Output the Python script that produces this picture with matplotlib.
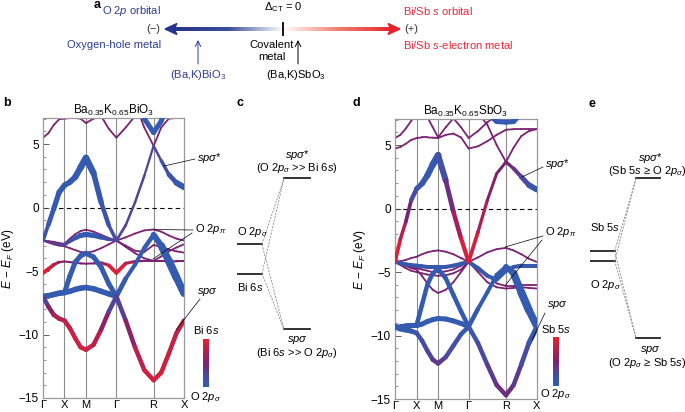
import numpy as np
import matplotlib.pyplot as plt
from matplotlib.collections import LineCollection
from matplotlib.colors import LinearSegmentedColormap
from matplotlib.patches import Polygon

plt.rcParams['font.family'] = ['Liberation Sans', 'DejaVu Sans']
plt.rcParams['mathtext.fontset'] = 'custom'
plt.rcParams['mathtext.rm'] = 'Liberation Sans'
plt.rcParams['mathtext.it'] = 'Liberation Sans:italic'
plt.rcParams['mathtext.bf'] = 'Liberation Sans:bold'

# k path  G-X-M-G-R-X  (segment lengths in 2pi/a)
seg_len = [0.5, 0.5, 0.7071, 0.8660, 0.7071]
kpts = np.cumsum([0] + seg_len)
klabels = ['Γ', 'X', 'M', 'Γ', 'R', 'X']
# 4 samples per segment
kgrid = np.concatenate([np.linspace(kpts[i], kpts[i + 1], 5)[:-1] for i in range(5)] + [[kpts[-1]]])
NA = np.nan

# ---------------- Ba0.35K0.65BiO3 bands (eV), colour weight (0 = O 2p, 1 = Bi 6s), width (px)
bi_cb = [-2.6, -1.35, -0.1, 1.2, 1.75, 2.0, 2.4, 3.15, 3.9, 2.7, 0.4, -1.4, -2.6, -1.4, 0.4, 2.5, 4.85, 3.7, 2.6, 1.95, 1.6]
bi_cb_c = [0.15, 0.1, 0.05, 0.05, 0.05, 0.05, 0.05, 0.05, 0.05, 0.05, 0.1, 0.15, 0.25, 0.3, 0.3, 0.3, 0.3, 0.25, 0.15, 0.1, 0.05]
bi_cb_w = [3, 4.5, 5, 5.5, 5.5, 5.5, 6, 6.5, 7, 6, 5, 4, 3, 2.5, 2.5, 2.5, 2, 3, 4, 5.5, 6.5]

bi_up1 = [5.5, 5.85, 6.5, 6.95, 7.0, 7.05, 7.05, 7.0, 6.65, 7.0, 7.2, 6.2, 5.5, 6.3, 7.2, 8, 8, 8, 8, 8, 8]
bi_up2 = [NA] * 13 + [9, 8.2, 6.3, 4.85, 6.3, 7.0, 7.05, 7.05]
bi_up3 = [NA] * 14 + [9, 7.0, 5.9, 6.8, 8.5, NA, NA]

bi_flat = [-7.0, -6.95, -6.85, -6.75, -6.7, -6.6, -6.45, -6.35, -6.3, -6.4, -6.6, -6.8, -7.0,
           -5.6, -4.5, -3.2, -2.15, -3.0, -4.2, -5.5, -6.75]
bi_flat_w = [5.5] * 13 + [4, 4, 4, 5, 7, 8, 8, 7]

bi_arch = [-7.0, -6.95, -6.85, -6.75, -6.7, -5.4, -4.3, -3.8, -3.6, -3.9, -4.7, -6.0, -7.0] + [NA] * 8

bi_sp = [-7.0, -7.8, -8.45, -8.75, -8.9, -9.5, -10.3, -11.0, -11.2, -10.8, -9.6, -8.2, -7.0,
         -8.9, -11.0, -12.8, -13.6, -13.0, -11.5, -9.9, -8.9]
bi_sp_c = [0.15, 0.45, 0.65, 0.75, 0.8, 0.82, 0.85, 0.87, 0.88, 0.85, 0.7, 0.45, 0.15, 0.45, 0.7, 0.85, 0.9, 0.88, 0.85, 0.8, 0.78]

bi_s = [-5.15, -4.85, -4.5, -4.3, -4.25, -4.3, -4.35, -4.4, -4.42, -4.4, -4.35, -4.55, -5.15,
        -4.4, -4.25, -4.2, -4.2, -4.2, -4.2, -4.25, -4.25]
bi_s_c = [1.0, 0.95, 0.8, 0.6, 0.5, 0.5, 0.5, 0.5, 0.5, 0.5, 0.55, 0.85, 1.0, 0.85, 0.6, 0.5, 0.5, 0.5, 0.5, 0.5, 0.5]
bi_s_w = [4, 4, 3.5, 2.5, 2, 2, 2, 2, 2, 2, 2.5, 3.5, 4, 3.5, 2.5, 2, 2, 2, 2, 2, 2]

bi_pu = [-2.6, -2.65, -2.7, -2.8, -2.85, -2.45, -2.1, -1.85, -1.75, -1.9, -2.15, -2.4, -2.6,
         -2.35, -2.05, -1.8, -1.73, -1.9, -2.2, -2.45, -2.6]
bi_bh = [-2.6, -2.7, -2.8, -2.9, -2.95, -2.65, -2.4, -2.2, -2.12, -2.2, -2.35, -2.5, -2.6] + [NA] * 8
bi_bh_c = [0.4, 0.4, 0.35, 0.3, 0.3, 0.2, 0.1, 0.05, 0.05, 0.05, 0.1, 0.2, 0.35] + [0.3] * 8
bi_bh_w = [2, 2, 2.5, 3, 3, 3.5, 4.5, 5, 5.5, 5, 4.5, 3.5, 2.5] + [2] * 8
bi_pl = [-2.6, -2.75, -2.9, -3.0, -3.05, -3.2, -3.35, -3.5, -3.55, -3.45, -3.2, -2.9, -2.6,
         -3.0, -3.4, -3.5, -2.95, -3.1, -3.3, -3.45, -3.55]
bi_pm = [NA] * 12 + [-2.6, -3.1, -3.6, -4.0, -4.2, -3.85, -3.45, -3.15, -2.9]

# ---------------- Ba0.35K0.65SbO3 bands
sb_cb = [-4.2, -2.4, -1.05, 0.65, 1.55, 1.95, 2.6, 3.45, 4.2, 2.2, -0.25, -2.35, -4.2,
         -1.85, 0.65, 2.75, 3.67, 3.15, 2.5, 1.85, 1.5]
sb_cb_c = [1.0, 0.85, 0.62, 0.35, 0.15, 0.1, 0.08, 0.07, 0.07, 0.3, 0.55, 0.8, 1.0, 0.8, 0.6, 0.5, 0.5, 0.45, 0.3, 0.15, 0.08]
sb_cb_w = [4, 3.5, 3.5, 4, 5, 5.5, 6, 6.5, 7, 5, 4.5, 4.5, 4, 3.5, 3, 3, 3, 3.5, 4.5, 5.5, 6]

sb_up1 = [5.55, 5.8, 6.3, 6.9, 7.5, 7.5, 7.2, 6.4, 5.6, 6.4, 7.1, 6.4, 5.55, 6.1, 6.8, 7.3, 7.5, 7.5, 7.5, 7.5, 7.5]
sb_up2 = [4.72, 4.85, 5.1, 5.4, 5.55, 5.6, 5.6, 5.58, 5.55, 5.8, 5.9, 5.6, 4.72, 4.9, 5.3, 5.8, 6.2, 6.25, 6.25, 6.25, 6.25]
sb_up3 = [NA] * 13 + [7.5, 6.6, 5.0, 3.67, 4.8, 5.7, 6.1, 6.25]
sb_up4 = [NA] * 14 + [7.5, 6.85, 6.8, 6.85, 7.5, NA, NA]

sb_sp = [-9.3, -9.45, -9.55, -9.65, -9.8, -10.4, -11.2, -11.9, -12.2, -11.7, -10.8, -9.9, -9.3,
         -10.6, -12.3, -13.9, -14.7, -13.9, -12.3, -10.6, -9.4]
sb_sp_c = [0.05, 0.05, 0.05, 0.08, 0.1, 0.15, 0.25, 0.35, 0.4, 0.3, 0.2, 0.1, 0.05, 0.15, 0.3, 0.4, 0.45, 0.4, 0.3, 0.15, 0.05]
sb_sp_w = [6, 6, 5.5, 5, 4.5] + [4.5] * 14 + [5, 5.5]

sb_flat = [-9.3, -9.3, -9.25, -9.2, -9.2, -9.1, -8.9, -8.75, -8.66, -8.7, -8.85, -9.05, -9.3,
           -7.9, -6.6, -5.25, -4.6, -5.1, -6.6, -8.0, -9.2]
sb_flat_w = [5] * 13 + [4, 4, 4, 5, 7, 8, 8, 7]
sb_arch = [-9.3, -9.3, -9.25, -9.2, -9.2, -7.6, -6.0, -5.1, -4.75, -5.5, -6.8, -8.1, -9.3] + [NA] * 8

sb_b1 = [-4.2, -4.3, -4.4, -4.45, -4.5, -4.55, -4.6, -4.6, -4.6, -4.6, -4.5, -4.35, -4.2,
         -4.7, -5.3, -5.6, -4.9, -4.6, -4.5, -4.5, -4.5]
sb_p1 = [-4.2, -4.15, -4.05, -3.9, -3.8, -3.6, -3.45, -3.35, -3.3, -3.4, -3.6, -3.9, -4.2,
         -3.85, -3.45, -3.2, -3.1, -3.3, -3.6, -3.95, -4.2]
sb_p2 = [-4.2, -4.35, -4.5, -4.65, -4.7, -4.8, -4.9, -5.0, -5.0, -4.95, -4.8, -4.5, -4.2,
         -4.6, -5.2, -5.9, -6.1, -6.1, -6.0, -6.0, -6.0]
sb_p3 = [-4.2, -4.45, -4.7, -4.9, -5.0, -5.1, -5.2, -5.25, -5.3, -5.25, -5.1, -4.8, -4.2,
         -5.0, -5.8, -6.2, -6.3, -6.25, -6.2, -6.25, -6.3]
sb_p4 = [-4.2, -4.3, -4.5, -4.7, -4.8, -5.3, -5.9, -6.4, -6.65, -6.4, -5.8, -5.0, -4.2] + [NA] * 8

# energy level schemes (same energy scale as the bands)
c_levels_left = [-2.9, -5.2]      # O 2p_sigma, Bi 6s
c_levels_right = [2.3, -9.6]      # sp sigma*, sp sigma
e_levels_left = [-3.4, -4.2]      # Sb 5s, O 2p_sigma
e_levels_right = [2.3, -10.3]

cmap = LinearSegmentedColormap.from_list(
    'orb', ['#2f5fb3', '#4a4aa0', '#7a2272', '#b3214f', '#ee1f2f'], N=256)
PURPLE = 0.5


def draw_band(ax, e, c=PURPLE, w=1.8, z=2):
    e = np.asarray(e, float)
    c = np.broadcast_to(np.asarray(c, float), e.shape)
    w = np.broadcast_to(np.asarray(w, float), e.shape)
    pts = np.column_stack([kgrid, e])
    segs = np.stack([pts[:-1], pts[1:]], axis=1)
    ok = ~np.isnan(segs).any(axis=(1, 2))
    cc = 0.5 * (c[:-1] + c[1:])
    ww = 0.5 * (w[:-1] + w[1:]) * 0.72
    lc = LineCollection(segs[ok], colors=cmap(cc[ok]), linewidths=ww[ok],
                        capstyle='round', joinstyle='round', zorder=z)
    ax.add_collection(lc)


def band_axes(rect, title):
    ax = fig.add_axes(rect)
    ax.set_xlim(kpts[0], kpts[-1])
    ax.set_ylim(-15, 7.05)
    for k in kpts[1:-1]:
        ax.axvline(k, color='#8c8c8c', lw=0.8, zorder=1)
    ax.axhline(0, color='black', lw=0.8, ls=(0, (4, 3)), zorder=1.5)
    ax.set_xticks(kpts)
    ax.set_xticklabels(klabels)
    ax.set_yticks([-15, -10, -5, 0, 5])
    ax.set_yticks(np.arange(-15, 8, 1), minor=True)
    ax.tick_params(axis='y', direction='in', length=4, width=0.6, labelsize=8.5, pad=3, colors='#444444',
                   labelcolor='black')
    ax.tick_params(axis='y', which='minor', direction='in', length=2, width=0.5, colors='#666666')
    ax.tick_params(axis='x', length=0, labelsize=8, pad=1.2)
    for s in ax.spines.values():
        s.set_color('#9a9a9a')
        s.set_linewidth(0.9)
    ax.set_ylabel(r'$E$ − $E_F$ (eV)', fontsize=8.5, labelpad=2)
    ax.set_title(title, fontsize=8.5, pad=3)
    return ax


fig = plt.figure(figsize=(6.85, 4.12), dpi=100)
W, H = 685.0, 412.0


def rect(x0, y0, x1, y1):
    return [x0 / W, 1 - y1 / H, (x1 - x0) / W, (y1 - y0) / H]


# ---- panel b
axb = band_axes(rect(43, 118, 184, 398), r'Ba$_{0.35}$K$_{0.65}$BiO$_3$')
for e in (bi_up1, bi_up2, bi_pu, bi_pl, bi_pm):
    draw_band(axb, e)
draw_band(axb, bi_up3, 0.05, 5, z=3)
draw_band(axb, bi_s, bi_s_c, bi_s_w, z=3)
draw_band(axb, bi_bh, bi_bh_c, bi_bh_w, z=3)
draw_band(axb, bi_flat, 0.05, bi_flat_w, z=3)
draw_band(axb, bi_arch, 0.05, 5, z=3)
draw_band(axb, bi_sp, bi_sp_c, 4.5, z=3)
draw_band(axb, bi_cb, bi_cb_c, bi_cb_w, z=4)

# ---- panel d
axd = band_axes(rect(395, 119, 536.5, 399), r'Ba$_{0.35}$K$_{0.65}$SbO$_3$')
for e in (sb_up1, sb_up2, sb_up3, sb_p1, sb_p2, sb_p3, sb_p4):
    draw_band(axd, e)
draw_band(axd, sb_up4, 0.05, 5, z=3)
draw_band(axd, sb_b1, 0.08, 4, z=3)
draw_band(axd, sb_flat, 0.05, sb_flat_w, z=3)
draw_band(axd, sb_arch, 0.05, 4.5, z=3)
draw_band(axd, sb_sp, sb_sp_c, sb_sp_w, z=3)
draw_band(axd, sb_cb, sb_cb_c, sb_cb_w, z=4)

# ---- colour bars
grad = np.linspace(0, 1, 128).reshape(-1, 1)
for r in (rect(203, 339, 209, 387), rect(553, 337, 559, 386)):
    cax = fig.add_axes(r)
    cax.imshow(grad, cmap=cmap, origin='lower', aspect='auto')
    cax.axis('off')


# ---- level schemes c, e
def level_axes(r, left, right, xl, xr):
    ax = fig.add_axes(r)
    ax.set_xlim(0, 1)
    ax.set_ylim(-15, 7.05)
    ax.axis('off')
    for y in left:
        ax.plot(xl, [y, y], color='#222222', lw=1.3)
    for y in right:
        ax.plot(xr, [y, y], color='#222222', lw=1.3)
    for y0 in left:
        for y1 in right:
            ax.plot([xl[1], xr[0]], [y0, y1], color='#8a8a8a', lw=0.6, ls=(0, (2.5, 1.5)))
    return ax


axc = level_axes(rect(237, 118, 337, 398), c_levels_left, c_levels_right, [0, 0.25], [0.47, 0.73])
axe = level_axes(rect(590, 118, 685, 398), e_levels_left, e_levels_right, [0, 0.26], [0.485, 0.74])

# ---- overlay for panel a and annotations
ax0 = fig.add_axes([0, 0, 1, 1], zorder=10)
ax0.set_xlim(0, W)
ax0.set_ylim(H, 0)
ax0.axis('off')

BLUE_T = '#2e3c8e'
RED_T = '#e8283a'
fs = 8

# gradient arrow
arrow_cmap = LinearSegmentedColormap.from_list('arr', ['#23348a', '#3a4c9a', '#ffffff', '#f08070', '#e8202a'])
xg = np.linspace(0, 1, 256).reshape(1, -1)
ax0.imshow(xg, cmap=arrow_cmap, extent=(172, 394, 31.0, 27.2), aspect='auto', zorder=1)
ax0.add_patch(Polygon([[165, 29], [177, 23.5], [174, 29], [177, 34.5]], closed=True, color='#23348a', zorder=2))
ax0.add_patch(Polygon([[400, 29], [388, 23.5], [391, 29], [388, 34.5]], closed=True, color='#e8202a', zorder=2))
ax0.plot([283, 283], [23, 35], color='black', lw=1.3)

ax0.text(283, 7, r'$\Delta_{\rm CT}$ = 0', ha='center', va='center', fontsize=fs)
ax0.text(161, 11, r'O 2$p$ orbital', ha='right', va='center', fontsize=fs, color=BLUE_T)
ax0.text(161, 45, 'Oxygen-hole metal', ha='right', va='center', fontsize=fs, color=BLUE_T)
ax0.text(403, 11, r'Bi/Sb $s$ orbital', ha='left', va='center', fontsize=fs, color=RED_T)
ax0.text(403, 45, r'Bi/Sb $s$-electron metal', ha='left', va='center', fontsize=fs, color=RED_T)
ax0.text(160, 29, '(−)', ha='right', va='center', fontsize=fs, color='#333333')
ax0.text(404, 29, '(+)', ha='left', va='center', fontsize=fs, color='#333333')
ax0.text(272, 51, 'Covalent\nmetal', ha='center', va='center', fontsize=fs, linespacing=1.35)
ax0.annotate('', xy=(198, 40), xytext=(198, 64),
             arrowprops=dict(arrowstyle='->', color=BLUE_T, lw=0.7, shrinkA=0, shrinkB=0))
ax0.annotate('', xy=(298, 40), xytext=(298, 64),
             arrowprops=dict(arrowstyle='->', color='black', lw=0.7, shrinkA=0, shrinkB=0))
ax0.text(198, 75, r'(Ba,K)BiO$_3$', ha='center', va='center', fontsize=fs, color=BLUE_T)
ax0.text(296, 75, r'(Ba,K)SbO$_3$', ha='center', va='center', fontsize=fs)

for lab, x, y in (('a', 94, 5), ('b', 3, 103), ('c', 237, 103), ('d', 353, 103), ('e', 589, 104)):
    ax0.text(x, y, lab, fontsize=9, fontweight='bold', ha='left', va='center')

# panel b annotations
ax0.text(197, 158, r'$sp\sigma$*', fontsize=fs, va='center')
ax0.plot([164, 195], [166, 159], color='black', lw=0.5)
ax0.text(195, 229, r'O 2$p_\pi$', fontsize=fs, va='center')
ax0.plot([155, 193], [229.5, 230], color='black', lw=0.5)
ax0.plot([153, 192], [259, 233], color='black', lw=0.5)
ax0.text(197, 292, r'$sp\sigma$', fontsize=fs, va='center')
ax0.plot([176, 200], [330, 299], color='black', lw=0.5)
ax0.text(206, 330, r'Bi 6$s$', fontsize=fs, ha='center', va='center')
ax0.text(206, 397, r'O 2$p_\sigma$', fontsize=fs, ha='center', va='center')

# panel d annotations
ax0.text(545, 164, r'$sp\sigma$*', fontsize=fs, va='center')
ax0.plot([522, 543], [177, 167], color='black', lw=0.5)
ax0.text(545, 232, r'O 2$p_\pi$', fontsize=fs, va='center')
ax0.plot([505, 543], [247, 236], color='black', lw=0.5)
ax0.plot([505.5, 542], [285, 240], color='black', lw=0.5)
ax0.text(547, 305, r'$sp\sigma$', fontsize=fs, va='center')
ax0.plot([532, 545], [340, 313], color='black', lw=0.5)
ax0.text(556, 329, r'Sb 5$s$', fontsize=fs, ha='center', va='center')
ax0.text(556, 394, r'O 2$p_\sigma$', fontsize=fs, ha='center', va='center')

# panel c texts
ax0.text(297, 155, r'$sp\sigma$*', fontsize=fs, ha='center', va='center')
ax0.text(297, 168, r'(O 2$p_\sigma$ >> Bi 6$s$)', fontsize=fs, ha='center', va='center')
ax0.text(237, 232, r'O 2$p_\sigma$', fontsize=fs, ha='left', va='center')
ax0.text(237, 287, r'Bi 6$s$', fontsize=fs, ha='left', va='center')
ax0.text(297, 340, r'$sp\sigma$', fontsize=fs, ha='center', va='center')
ax0.text(297, 353, r'(Bi 6$s$ >> O 2$p_\sigma$)', fontsize=fs, ha='center', va='center')

# panel e texts
ax0.text(650, 158, r'$sp\sigma$*', fontsize=fs, ha='center', va='center')
ax0.text(647, 171, r'(Sb 5$s$ ≥ O 2$p_\sigma$)', fontsize=fs, ha='center', va='center')
ax0.text(590, 227, r'Sb 5$s$', fontsize=fs, ha='left', va='center')
ax0.text(590, 285, r'O 2$p_\sigma$', fontsize=fs, ha='left', va='center')
ax0.text(650, 350, r'$sp\sigma$', fontsize=fs, ha='center', va='center')
ax0.text(647, 363, r'(O 2$p_\sigma$ ≥ Sb 5$s$)', fontsize=fs, ha='center', va='center')

fig.savefig('out.png', dpi=100)
